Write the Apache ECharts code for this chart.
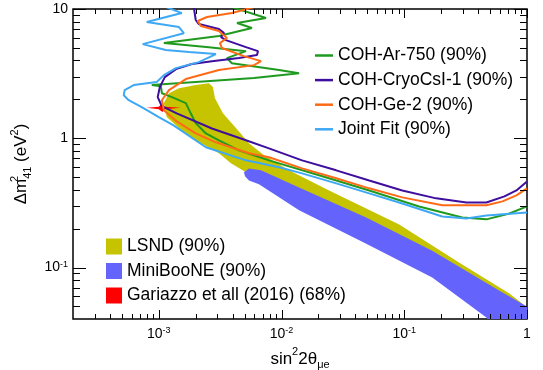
<!DOCTYPE html>
<html>
<head>
<meta charset="utf-8">
<script src="https://cdn.jsdelivr.net/npm/echarts@6/dist/echarts.min.js"></script>
<style>html,body{margin:0;padding:0;background:#fff}#c{width:543px;height:370px}</style>
</head>
<body>
<div id="c"></div>
<script>
// ---- data (x = sin^2 2theta_mue, y = dm^2_41 [eV^2]) ----
const xTickLabels = [1e-3, 1e-2, 1e-1, 1];
const yTickLabels = [0.1, 1, 10];

const cohAr750 = [
 [4.0e-3,10.3],[7.47e-3,8.51],[4.34e-3,7.79],[5.74e-3,7.12],[3.09e-3,6.18],[1.1e-3,5.45],
 [2.56e-3,5.07],[5.13e-3,4.72],[3.59e-3,4.17],[3.94e-3,3.81],[9.55e-3,3.37],[0.0139,3.19],
 [5.97e-3,2.92],[8.77e-4,2.58],[1.04e-3,2.53],[1.06e-3,2.23],[1.28e-3,2.08],[1.66e-3,1.87],
 [1.82e-3,1.56],[2.0e-3,1.31],[2.42e-3,1.09],[3.09e-3,0.965],[4.5e-3,0.807],[7.9e-3,0.675],
 [0.0202,0.517],[0.0518,0.395],[0.132,0.297],[0.297,0.244],[0.467,0.236],[0.72,0.262],[1.0,0.297]
];
const cohCryoCsI1 = [
 [1.93e-3,10.3],[2.0e-3,8.22],[2.12e-3,7.65],[3.09e-3,7.0],[3.4e-3,6.51],[3.21e-3,6.07],
 [3.52e-3,5.75],[5.13e-3,5.07],[6.43e-3,4.72],[6.31e-3,4.4],[4.5e-3,4.17],[2.71e-3,3.95],
 [1.86e-3,3.75],[1.38e-3,3.43],[1.12e-3,2.97],[1.02e-3,2.49],[9.8e-4,2.08],[1.06e-3,1.77],
 [1.4e-3,1.56],[2.71e-3,1.19],[5.13e-3,0.965],[7.9e-3,0.836],[0.0147,0.675],[0.0279,0.565],
 [0.0518,0.472],[0.0963,0.395],[0.182,0.343],[0.321,0.319],[0.467,0.319],[0.655,0.355],
 [0.82,0.395],[1.0,0.464]
];
const cohGe2 = [
 [5.9e-3,10.3],[3.94e-3,9.31],[2.47e-3,8.67],[2.08e-3,8.07],[2.2e-3,7.38],[3.09e-3,6.75],
 [3.59e-3,5.96],[3.15e-3,5.45],[3.27e-3,4.99],[4.94e-3,4.32],[6.8e-3,3.95],[5.97e-3,3.68],
 [3.09e-3,3.37],[1.66e-3,2.87],[1.21e-3,2.36],[1.06e-3,1.97],[1.1e-3,1.65],[1.4e-3,1.35],
 [2.0e-3,1.09],[2.92e-3,0.931],[5.43e-3,0.765],[7.9e-3,0.713],[0.0147,0.585],[0.0279,0.49],
 [0.0518,0.41],[0.0963,0.349],[0.204,0.303],[0.34,0.303],[0.467,0.303],[0.631,0.325],
 [0.82,0.362],[1.0,0.41]
];
const jointFit = [
 [1.16e-3,10.3],[1.54e-3,9.3],[7.98e-4,7.93],[1.46e-3,7.25],[1.6e-3,6.5],[7.4e-4,5.35],
 [1.14e-3,4.81],[1.76e-3,4.64],[2.92e-3,4.48],[2.12e-3,3.88],[1.38e-3,3.49],[1.1e-3,3.08],
 [9.6e-4,2.72],[6.25e-4,2.58],[5.27e-4,2.36],[5.18e-4,2.15],[5.69e-4,1.97],[7.26e-4,1.74],
 [1.0e-3,1.46],[1.32e-3,1.26],[2.42e-3,0.852],[5.13e-3,0.675],[9.55e-3,0.596],[0.0147,0.535],
 [0.0279,0.448],[0.0518,0.375],[0.0963,0.313],[0.204,0.248],[0.321,0.24],[0.467,0.253],[1.0,0.267]
];
const lsndRegion = [
 [1.21e-3,2.23],[1.46e-3,2.44],[2.0e-3,2.58],[2.56e-3,2.67],[2.76e-3,2.49],[2.87e-3,2.04],
 [3.33e-3,1.56],[4.25e-3,1.2],[5.43e-3,0.915],[7.2e-3,0.738],[0.0115,0.565],[0.0244,0.395],
 [0.091,0.215],[0.281,0.109],[0.719,0.0629],[0.918,0.0526],[1.0,0.0481],
 [1.0,0.0432],[5.43e-3,0.49],[5.13e-3,0.545],[3.87e-3,0.64],[3.09e-3,0.765],[2.0e-3,0.965],
 [1.46e-3,1.2],[1.16e-3,1.46],[1.1e-3,1.87]
];
const miniBooNERegion = [
 [5.04e-3,0.508],[4.94e-3,0.545],[5.43e-3,0.585],[6.8e-3,0.565],[0.0139,0.417],[0.049,0.244],
 [0.169,0.135],[0.597,0.0663],[1.0,0.0499],[1.0,0.035],[0.52,0.035],[0.467,0.041],
 [0.169,0.0836],[0.049,0.153],[0.0139,0.277],[6.55e-3,0.44],[5.43e-3,0.472]
];
const gariazzoRegion = [
 [7.98e-4,1.72],[1.0e-3,1.75],[1.06e-3,1.86],[1.12e-3,1.75],[1.51e-3,1.72],
 [1.12e-3,1.68],[1.07e-3,1.6],[1.0e-3,1.68]
];

// ---- styling ----
const FONT = 'Liberation Sans';
const C = {ar:'#1f9a1f', cryo:'#3e0e9e', ge:'#ff6a17', joint:'#3fa8f4', lsnd:'#c6c400', mb:'#6464fc', red:'#ff0000'};
const X_MIN = 2e-4, X_MAX = 1, Y_MIN = 0.04, Y_MAX = 10;

function minorTicks(lo, hi) {
  const out = [];
  for (let e = Math.floor(Math.log10(lo)); e <= Math.ceil(Math.log10(hi)); e++) {
    for (let m = 2; m <= 9; m++) { const v = m * Math.pow(10, e); if (v > lo && v < hi) out.push(v); }
  }
  return out;
}
const xMinor = minorTicks(X_MIN, X_MAX), yMinor = minorTicks(Y_MIN, Y_MAX);

function tickLabel(v) {
  const l = Math.log10(v), e = Math.round(l);
  if (Math.abs(l - e) > 1e-6) return '';
  if (e === 0) return '1';
  if (e === 1) return '10';
  return '10{s|' + e + '}';
}

function polySeries(name, pts, color) {
  return {
    name, type: 'custom', coordinateSystem: 'cartesian2d', clip: true, silent: true,
    itemStyle: {color}, data: pts,
    renderItem(params, api) {
      if (params.dataIndex !== 0) return null;
      return {type: 'polygon', shape: {points: pts.map(p => api.coord(p))}, style: {fill: color}};
    }
  };
}
function lineSeries(name, pts, color) {
  return {name, type: 'line', data: pts, symbol: 'none', showSymbol: false, smooth: false,
    lineStyle: {color, width: 2}, itemStyle: {color}, silent: true, z: 3};
}
const tickSeries = {
  type: 'custom', coordinateSystem: 'cartesian2d', silent: true, clip: false, z: 5,
  data: [[1e-3, 1]],
  renderItem(params, api) {
    const cs = params.coordSys, L = cs.x, R = cs.x + cs.width, T = cs.y, B = cs.y + cs.height;
    const ch = [];
    const ln = (x1, y1, x2, y2) => ch.push({type: 'line', shape: {x1, y1, x2, y2}, style: {stroke: '#000', lineWidth: 1}});
    const xt = (v, len) => { const px = Math.round(api.coord([v, 1])[0]) + 0.5; ln(px, B, px, B - len); ln(px, T, px, T + len); };
    const yt = (v, len) => { const py = Math.round(api.coord([1e-3, v])[1]) + 0.5; ln(L, py, L + len, py); ln(R, py, R - len, py); };
    xTickLabels.forEach(v => xt(v, 9)); xMinor.forEach(v => xt(v, 5));
    yTickLabels.forEach(v => yt(v, 13)); yMinor.forEach(v => yt(v, 7));
    return {type: 'group', children: ch};
  }
};

const chart = echarts.init(document.getElementById('c'), null, {renderer: 'canvas'});
chart.setOption({
  animation: false,
  backgroundColor: '#fff',
  textStyle: {fontFamily: FONT},
  grid: {left: 73, right: 16, top: 9, bottom: 51, containLabel: false, outerBoundsMode: 'none',
         show: true, borderColor: '#000', borderWidth: 1.5, backgroundColor: 'transparent'},
  xAxis: {
    type: 'log', logBase: 10, min: X_MIN, max: X_MAX,
    axisLine: {show: false}, axisTick: {show: false}, splitLine: {show: false}, minorTick: {show: false},
    axisLabel: {margin: 7, color: '#000', fontSize: 14, fontFamily: FONT, lineHeight: 16, formatter: tickLabel,
      rich: {s: {fontSize: 9, lineHeight: 9, verticalAlign: 'top', color: '#000', fontFamily: FONT}}},
    name: 'sin{sp|2}2θ{sb|μe}', nameLocation: 'middle', nameGap: 25,
    nameTextStyle: {color: '#000', fontSize: 17, fontFamily: FONT, lineHeight: 24,
      rich: {sp: {fontSize: 11, lineHeight: 11, verticalAlign: 'top', fontFamily: FONT, color: '#000'},
             sb: {fontSize: 11, lineHeight: 11, verticalAlign: 'bottom', fontFamily: FONT, color: '#000'}}}
  },
  yAxis: {
    type: 'log', logBase: 10, min: Y_MIN, max: Y_MAX,
    axisLine: {show: false}, axisTick: {show: false}, splitLine: {show: false}, minorTick: {show: false},
    axisLabel: {margin: 5, color: '#000', fontSize: 14, fontFamily: FONT, lineHeight: 16, formatter: tickLabel,
      rich: {s: {fontSize: 9, lineHeight: 9, verticalAlign: 'top', color: '#000', fontFamily: FONT}}},
    name: 'Δm{sp0|2}{sb|41} (eV{sp|2})', nameLocation: 'middle', nameGap: 26, nameRotate: 90,
    nameTextStyle: {color: '#000', fontSize: 17, fontFamily: FONT, lineHeight: 24,
      rich: {sp0: {fontSize: 11, lineHeight: 11, verticalAlign: 'top', width: 0, fontFamily: FONT, color: '#000'},
             sp: {fontSize: 11, lineHeight: 11, verticalAlign: 'top', fontFamily: FONT, color: '#000'},
             sb: {fontSize: 11, lineHeight: 11, verticalAlign: 'bottom', fontFamily: FONT, color: '#000'}}}
  },
  legend: [
    {data: ['COH-Ar-750 (90%)', 'COH-CryoCsI-1 (90%)', 'COH-Ge-2 (90%)', 'Joint Fit (90%)'],
     orient: 'vertical', left: 310, top: 41.5, icon: 'rect', itemWidth: 18, itemHeight: 2.5, itemGap: 6.6,
     itemTextGap: 2, selectedMode: false,
     textStyle: {color: '#000', fontSize: 17.5, fontFamily: FONT}},
    {data: ['LSND (90%)', 'MiniBooNE (90%)', 'Gariazzo et all (2016) (68%)'],
     orient: 'vertical', left: 101, top: 232.5, icon: 'rect', itemWidth: 16, itemHeight: 16, itemGap: 6.5,
     itemTextGap: 4, selectedMode: false,
     textStyle: {color: '#000', fontSize: 17.5, fontFamily: FONT}}
  ],
  series: [
    polySeries('LSND (90%)', lsndRegion, C.lsnd),
    polySeries('MiniBooNE (90%)', miniBooNERegion, C.mb),
    polySeries('Gariazzo et all (2016) (68%)', gariazzoRegion, C.red),
    lineSeries('COH-Ar-750 (90%)', cohAr750, C.ar),
    lineSeries('COH-CryoCsI-1 (90%)', cohCryoCsI1, C.cryo),
    lineSeries('COH-Ge-2 (90%)', cohGe2, C.ge),
    lineSeries('Joint Fit (90%)', jointFit, C.joint),
    tickSeries
  ]
});
</script>
</body>
</html>
